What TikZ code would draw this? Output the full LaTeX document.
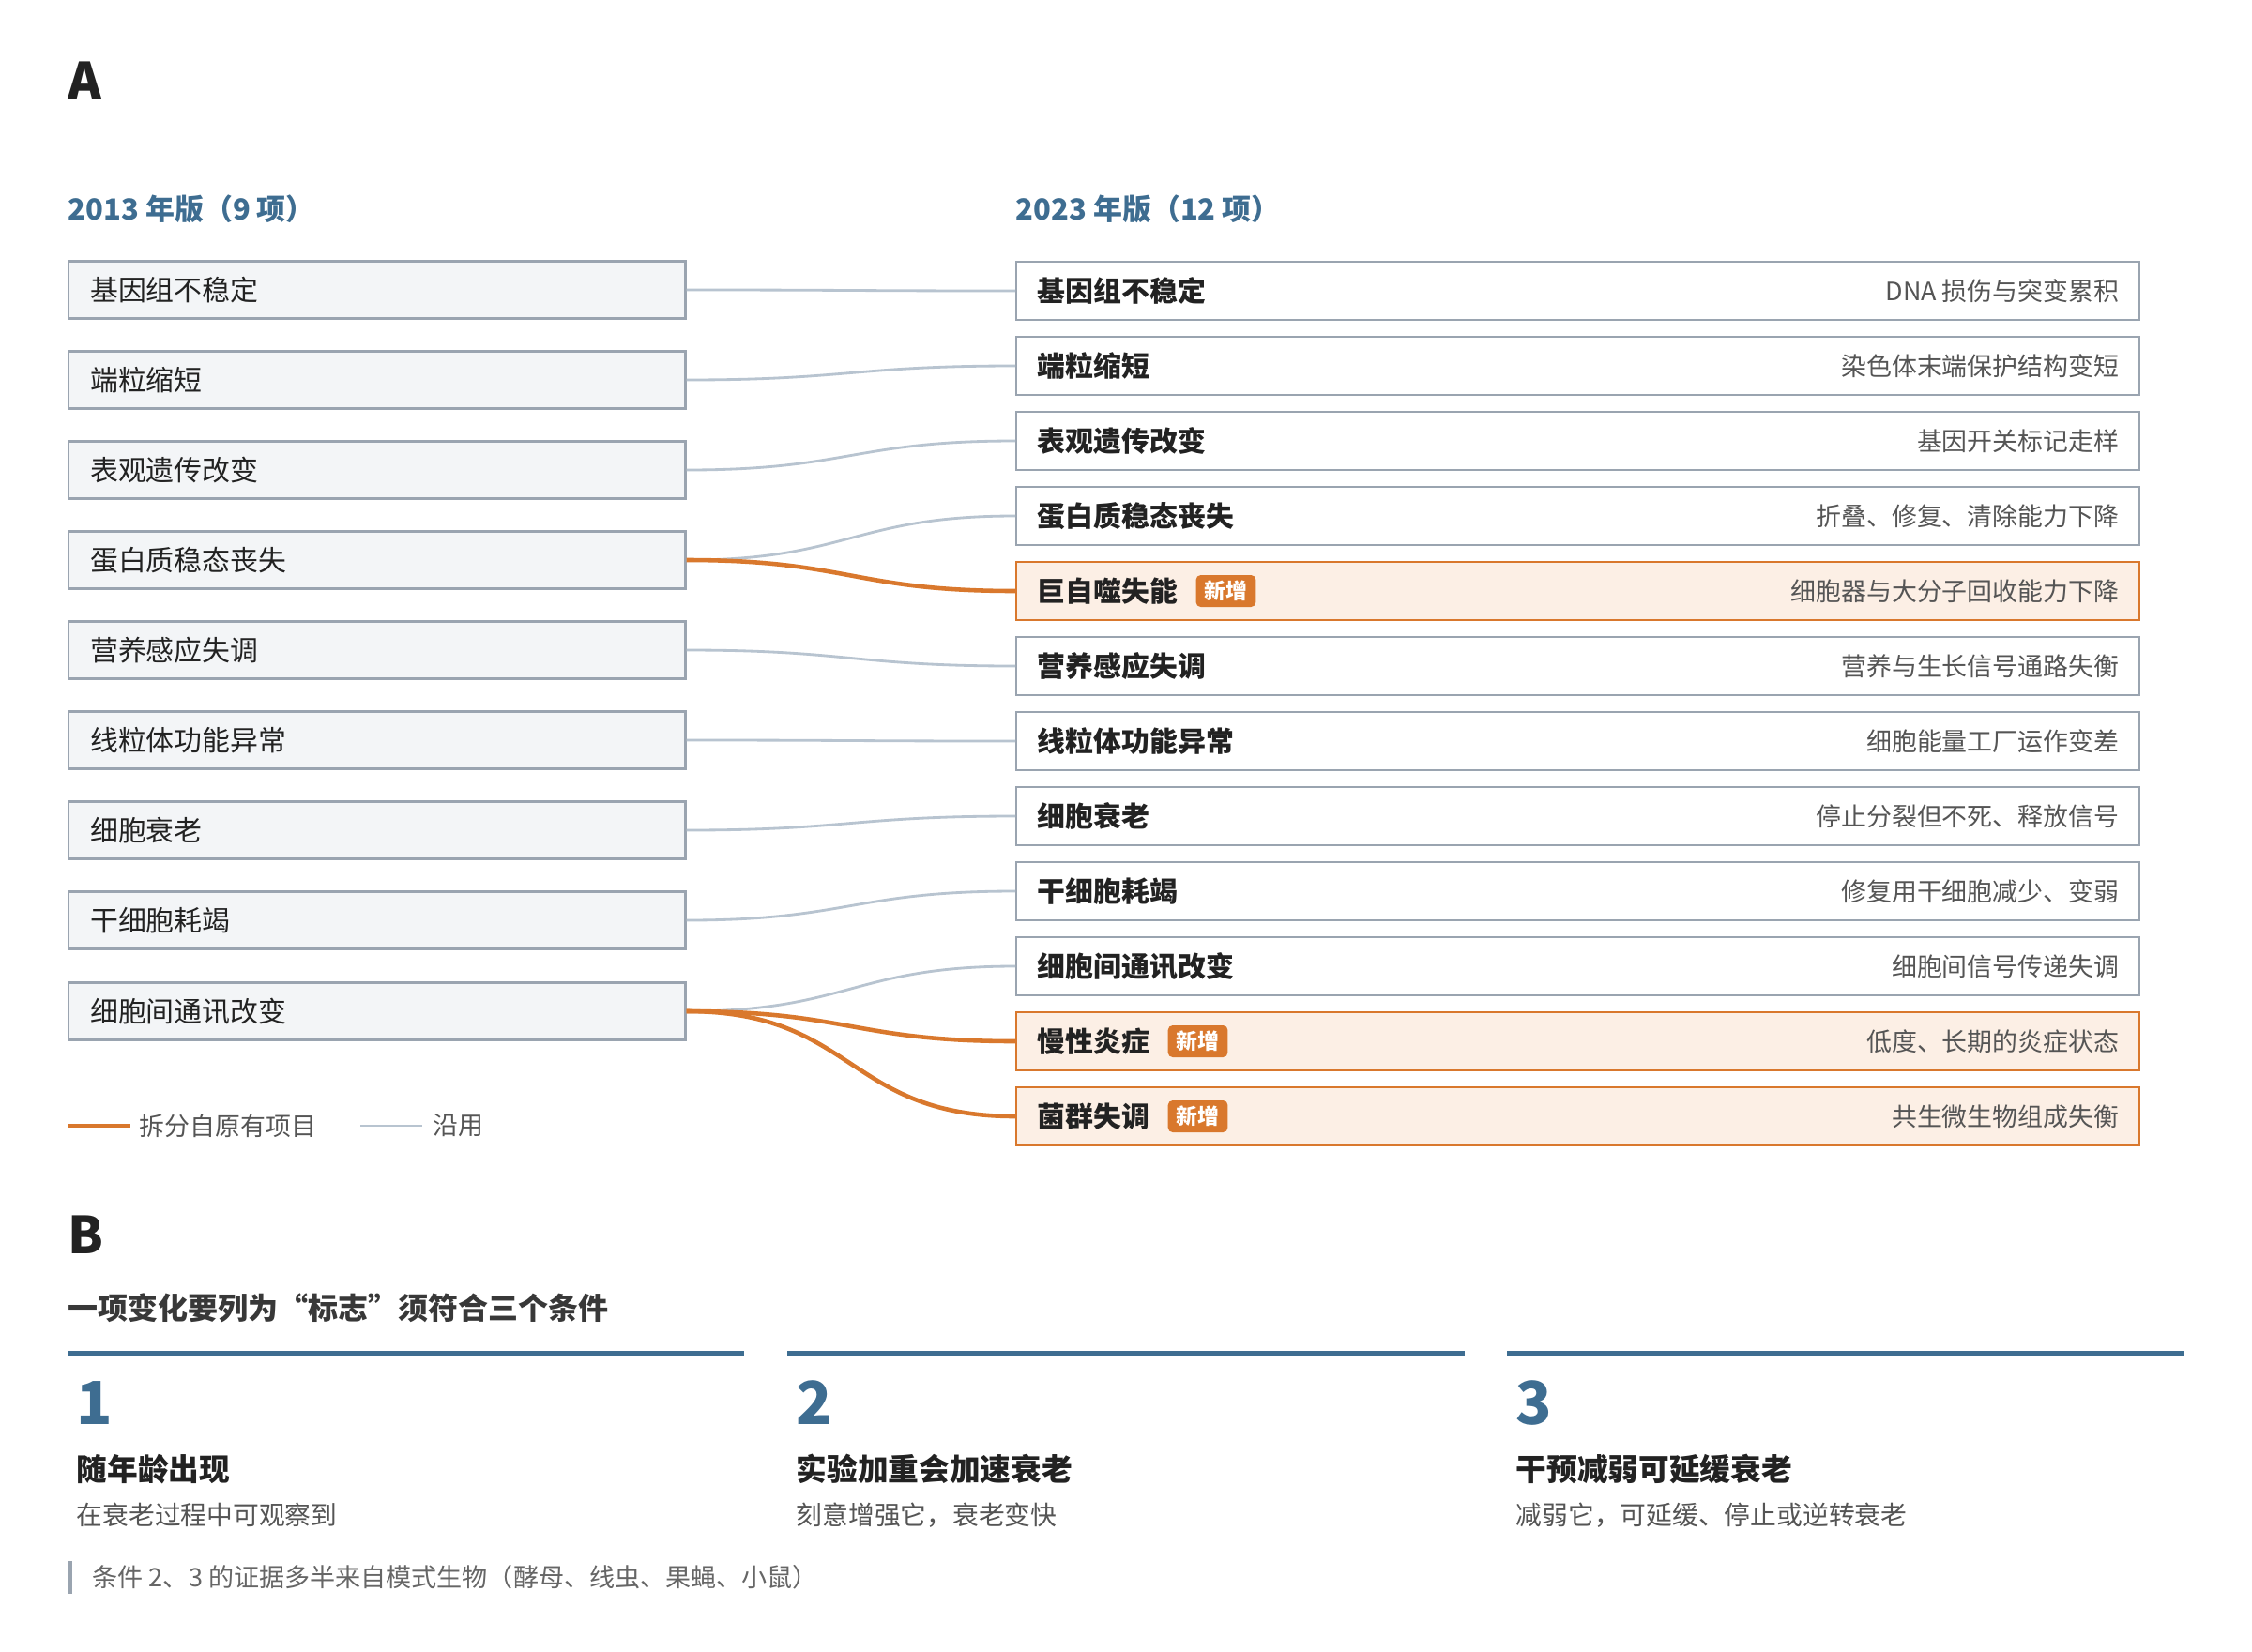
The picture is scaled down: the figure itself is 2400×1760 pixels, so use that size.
\documentclass[tikz,border=0pt]{standalone}
\usepackage{fontspec}
\setmainfont{Noto Sans CJK SC}
\usetikzlibrary{positioning}
\definecolor{headblue}{HTML}{3E6D91}
\definecolor{splitorange}{HTML}{D9782D}
\definecolor{newfill}{HTML}{FCEFE5}
\definecolor{boxgray}{HTML}{9AA4B0}
\definecolor{oldfill}{HTML}{F3F5F7}
\definecolor{linkgray}{HTML}{B8C4D0}
\definecolor{textdark}{HTML}{222222}
\definecolor{textgray}{HTML}{555555}

\begin{document}
\begin{tikzpicture}[x=0.01cm,y=-0.01cm,
    oldbox/.style={draw=boxgray,line width=0.65pt,fill=oldfill,anchor=west,minimum height=0.61cm,text width=6.11cm,inner xsep=0.23cm,align=left,text=textdark,font=\fontsize{8.5}{10}\selectfont},
    newbox/.style={draw=boxgray,line width=0.65pt,fill=white,anchor=west,minimum height=0.62cm,minimum width=11.96cm},
    addbox/.style={newbox,draw=splitorange,fill=newfill},
    ttl/.style={anchor=west,inner sep=0pt,text=textdark,font=\bfseries\fontsize{8.5}{10}\selectfont},
    desc/.style={anchor=east,inner sep=0pt,text=textgray,font=\fontsize{7.65}{9}\selectfont},
    badge/.style={fill=splitorange,text=white,rounded corners=0.05cm,inner xsep=0.09cm,inner ysep=0pt,minimum height=0.34cm,font=\bfseries\fontsize{6.5}{7}\selectfont},
    keeplink/.style={draw=linkgray,line width=0.8pt,out=0,in=180,looseness=1.25},
    splitlink/.style={draw=splitorange,line width=1.3pt,out=0,in=180,looseness=1.25},
    panel/.style={anchor=west,inner sep=0pt,text=textdark,font=\bfseries\fontsize{15.5}{18}\selectfont},
    colhead/.style={anchor=west,inner sep=0pt,text=headblue,font=\bfseries\fontsize{8.8}{10}\selectfont},
    crit/.style={anchor=west,inner sep=0pt,text=headblue,font=\bfseries\fontsize{18}{20}\selectfont},
    crithead/.style={anchor=west,inner sep=0pt,text=textdark,font=\bfseries\fontsize{9.3}{11}\selectfont},
    critsub/.style={anchor=west,inner sep=0pt,text=textgray,font=\fontsize{7.9}{9}\selectfont}]

    \useasboundingbox[fill=white] (0,0) rectangle (2400,1760);

    % Panel A
    \node[panel] (lblA) at (72,86) {A};
    \node[colhead] (old) at (72,223) {2013 年版（9 项）};
    \node[colhead] (new) at (1082,223) {2023 年版（12 项）};

    % 2013 list
    \node[oldbox] (l1) at (72,309) {基因组不稳定};
    \node[oldbox] (l2) at (72,405) {端粒缩短};
    \node[oldbox] (l3) at (72,501) {表观遗传改变};
    \node[oldbox] (l4) at (72,597) {蛋白质稳态丧失};
    \node[oldbox] (l5) at (72,693) {营养感应失调};
    \node[oldbox] (l6) at (72,789) {线粒体功能异常};
    \node[oldbox] (l7) at (72,885) {细胞衰老};
    \node[oldbox] (l8) at (72,981) {干细胞耗竭};
    \node[oldbox] (l9) at (72,1078) {细胞间通讯改变};

    % 2023 list
    \node[newbox] (r1) at (1082,310) {};
    \node[ttl] (r1t) at ([xshift=0.23cm]r1.west) {基因组不稳定};
    \node[desc] (r1d) at ([xshift=-0.22cm]r1.east) {DNA 损伤与突变累积};
    \node[newbox] (r2) at (1082,390) {};
    \node[ttl] (r2t) at ([xshift=0.23cm]r2.west) {端粒缩短};
    \node[desc] (r2d) at ([xshift=-0.22cm]r2.east) {染色体末端保护结构变短};
    \node[newbox] (r3) at (1082,470) {};
    \node[ttl] (r3t) at ([xshift=0.23cm]r3.west) {表观遗传改变};
    \node[desc] (r3d) at ([xshift=-0.22cm]r3.east) {基因开关标记走样};
    \node[newbox] (r4) at (1082,550) {};
    \node[ttl] (r4t) at ([xshift=0.23cm]r4.west) {蛋白质稳态丧失};
    \node[desc] (r4d) at ([xshift=-0.22cm]r4.east) {折叠、修复、清除能力下降};
    \node[addbox] (r5) at (1082,630) {};
    \node[ttl] (r5t) at ([xshift=0.23cm]r5.west) {巨自噬失能};
    \node[badge,right=0.18cm of r5t] (r5b) {新增};
    \node[desc] (r5d) at ([xshift=-0.22cm]r5.east) {细胞器与大分子回收能力下降};
    \node[newbox] (r6) at (1082,710) {};
    \node[ttl] (r6t) at ([xshift=0.23cm]r6.west) {营养感应失调};
    \node[desc] (r6d) at ([xshift=-0.22cm]r6.east) {营养与生长信号通路失衡};
    \node[newbox] (r7) at (1082,790) {};
    \node[ttl] (r7t) at ([xshift=0.23cm]r7.west) {线粒体功能异常};
    \node[desc] (r7d) at ([xshift=-0.22cm]r7.east) {细胞能量工厂运作变差};
    \node[newbox] (r8) at (1082,870) {};
    \node[ttl] (r8t) at ([xshift=0.23cm]r8.west) {细胞衰老};
    \node[desc] (r8d) at ([xshift=-0.22cm]r8.east) {停止分裂但不死、释放信号};
    \node[newbox] (r9) at (1082,950) {};
    \node[ttl] (r9t) at ([xshift=0.23cm]r9.west) {干细胞耗竭};
    \node[desc] (r9d) at ([xshift=-0.22cm]r9.east) {修复用干细胞减少、变弱};
    \node[newbox] (r10) at (1082,1030) {};
    \node[ttl] (r10t) at ([xshift=0.23cm]r10.west) {细胞间通讯改变};
    \node[desc] (r10d) at ([xshift=-0.22cm]r10.east) {细胞间信号传递失调};
    \node[addbox] (r11) at (1082,1110) {};
    \node[ttl] (r11t) at ([xshift=0.23cm]r11.west) {慢性炎症};
    \node[badge,right=0.18cm of r11t] (r11b) {新增};
    \node[desc] (r11d) at ([xshift=-0.22cm]r11.east) {低度、长期的炎症状态};
    \node[addbox] (r12) at (1082,1190) {};
    \node[ttl] (r12t) at ([xshift=0.23cm]r12.west) {菌群失调};
    \node[badge,right=0.18cm of r12t] (r12b) {新增};
    \node[desc] (r12d) at ([xshift=-0.22cm]r12.east) {共生微生物组成失衡};

    % Links
    \draw[keeplink] (l1.east) to (r1.west);
    \draw[keeplink] (l2.east) to (r2.west);
    \draw[keeplink] (l3.east) to (r3.west);
    \draw[keeplink] (l4.east) to (r4.west);
    \draw[keeplink] (l5.east) to (r6.west);
    \draw[keeplink] (l6.east) to (r7.west);
    \draw[keeplink] (l7.east) to (r8.west);
    \draw[keeplink] (l8.east) to (r9.west);
    \draw[keeplink] (l9.east) to (r10.west);
    \draw[splitlink] (l4.east) to (r5.west);
    \draw[splitlink] (l9.east) to (r11.west);
    \draw[splitlink] (l9.east) to (r12.west);

    % Legend
    \coordinate (lgsa) at (72,1200);
    \coordinate (lgsb) at (139,1200);
    \coordinate (lgka) at (384,1200);
    \coordinate (lgkb) at (450,1200);
    \draw[splitorange,line width=1.3pt] (lgsa) -- (lgsb);
    \node[desc,anchor=west] (lgsplit) at (148,1200) {拆分自原有项目};
    \draw[linkgray,line width=0.8pt] (lgka) -- (lgkb);
    \node[desc,anchor=west] (lgkeep) at (461,1200) {沿用};

    % Panel B
    \node[panel] (lblB) at (72,1316) {B};
    \node[crithead,text=textdark!90,font=\bfseries\fontsize{9.1}{11}\selectfont] (rule) at (72,1394) {一项变化要列为“标志”须符合三个条件};
    \draw[headblue,line width=0.06cm] (72,1443) -- (793,1443);
    \draw[headblue,line width=0.06cm] (839,1443) -- (1561,1443);
    \draw[headblue,line width=0.06cm] (1606,1443) -- (2327,1443);

    \node[crit] (c1) at (81,1495) {1};
    \node[crithead] (c1h) at (81,1566) {随年龄出现};
    \node[critsub] (c1s) at (81,1615) {在衰老过程中可观察到};
    \node[crit] (c2) at (848,1495) {2};
    \node[crithead] (c2h) at (848,1566) {实验加重会加速衰老};
    \node[critsub] (c2s) at (848,1615) {刻意增强它，衰老变快};
    \node[crit] (c3) at (1615,1495) {3};
    \node[crithead] (c3h) at (1615,1566) {干预减弱可延缓衰老};
    \node[critsub] (c3s) at (1615,1615) {减弱它，可延缓、停止或逆转衰老};

    % Note
    \fill[boxgray] (72,1664) rectangle (77,1699);
    \node[critsub,text=textgray!90,font=\fontsize{7.7}{9}\selectfont] (note) at (98,1681) {条件 2、3 的证据多半来自模式生物（酵母、线虫、果蝇、小鼠）};
\end{tikzpicture}
\end{document}
